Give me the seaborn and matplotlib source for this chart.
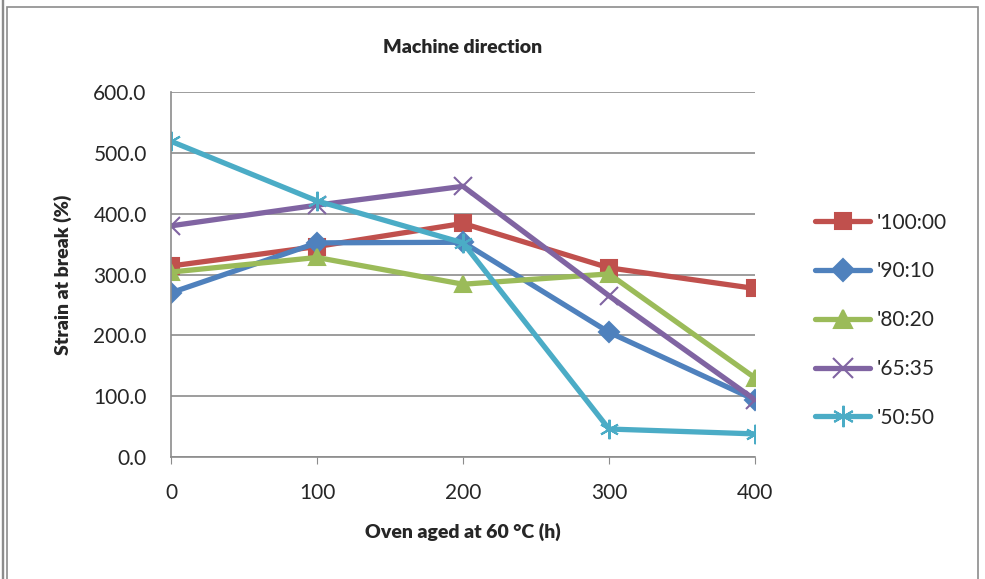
import numpy as np
import pandas as pd
import seaborn as sns
import matplotlib.pyplot as plt
from matplotlib.patches import Rectangle

hours = [0, 100, 200, 300, 400]
blend_100_00 = [314, 346, 384, 311, 277]
blend_90_10 = [270, 352, 353, 205, 94]
blend_80_20 = [304, 328, 284, 301, 130]
blend_65_35 = [380, 414, 445, 265, 94]
blend_50_50 = [519, 421, 352, 46, 38]
labels = ["'100:00", "'90:10", "'80:20", "'65:35", "'50:50"]
colors = ["#C0504D", "#4F81BD", "#9BBB59", "#8064A2", "#4BACC6"]

series = [blend_100_00, blend_90_10, blend_80_20, blend_65_35, blend_50_50]
df = pd.DataFrame({
    "hours": np.tile(hours, len(series)),
    "strain": np.concatenate(series),
    "blend": np.repeat(labels, len(hours)),
})

sns.set_style("white")
plt.rcParams["font.family"] = ["Lato", "DejaVu Sans"]

fig = plt.figure(figsize=(9.85, 5.79), dpi=100)
ax = fig.add_axes([0.1736, 0.2107, 0.5929, 0.6304])

markers = {labels[0]: "s", labels[1]: "D", labels[2]: "^",
           labels[3]: "x", labels[4]: (6, 2, 0)}
msizes = [11, 10, 12, 13, 14]
for lab, col, ms in zip(labels, colors, msizes):
    sub = df[df["blend"] == lab]
    sns.lineplot(data=sub, x="hours", y="strain", ax=ax, color=col,
                 linewidth=3.8, marker=markers[lab], markersize=ms,
                 markeredgecolor=col, markeredgewidth=1.5, label=lab,
                 solid_joinstyle="round", solid_capstyle="round")

ax.set_xlim(0, 400)
ax.set_ylim(0, 600)
ax.set_xticks(hours)
ax.set_yticks(np.arange(0, 601, 100))
ax.set_yticklabels([f"{v:.1f}" for v in np.arange(0, 601, 100)])
ax.grid(axis="y", color="#8c8c8c", linewidth=1.2)
ax.grid(axis="x", visible=False)
for s in ["top", "right"]:
    ax.spines[s].set_visible(False)
ax.spines["left"].set_color("#8c8c8c")
ax.spines["bottom"].set_color("#8c8c8c")
ax.spines["left"].set_linewidth(1.2)
ax.spines["bottom"].set_linewidth(1.2)
ax.tick_params(axis="x", bottom=True, length=5, color="#8c8c8c", labelsize=15, pad=14)
ax.tick_params(axis="y", left=False, labelsize=15, pad=14)
for lbl in ax.get_xticklabels() + ax.get_yticklabels():
    lbl.set_clip_on(False)

ax.set_title("Machine direction", fontsize=14, fontweight="heavy", pad=28)
ax.set_xlabel("Oven aged at 60 °C (h)", fontsize=14, fontweight="heavy", labelpad=14)
ax.set_ylabel("Strain at break (%)", fontsize=14, fontweight="heavy", labelpad=15)

ax.legend(loc="center left", bbox_to_anchor=(1.103, 0.375), frameon=False,
          fontsize=15, handlelength=2.65, labelspacing=1.38, handletextpad=0.3,
          borderpad=0, borderaxespad=0, markerscale=1.1)

fig.patches.append(Rectangle((7 / 985, -0.05), 971 / 985, 1 - 7 / 579 + 0.05,
                             transform=fig.transFigure, fill=False,
                             edgecolor="#8c8c8c", linewidth=1.2))
fig.patches.append(Rectangle((2 / 985, -0.01), 1 / 985, 1.02,
                             transform=fig.transFigure, fill=False,
                             edgecolor="#8c8c8c", linewidth=1.0))

plt.savefig("out.png", dpi=100)
